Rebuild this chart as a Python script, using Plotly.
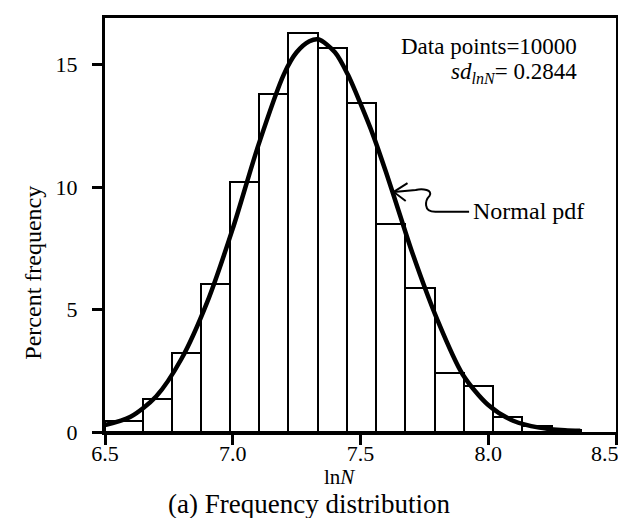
import numpy as np
import plotly.graph_objects as go

# ---- data ----
bin_edges = [6.50, 6.649, 6.763, 6.875, 6.990, 7.104, 7.218, 7.334, 7.448,
             7.562, 7.676, 7.791, 7.905, 8.020, 8.134, 8.248, 8.362]
bar_heights = [0.45, 1.36, 3.23, 6.05, 10.2, 13.78, 16.28, 15.67, 13.44,
               8.49, 5.88, 2.40, 1.86, 0.62, 0.25, 0.08]

curve_x = [6.50, 6.60, 6.70, 6.80, 6.90, 7.00, 7.10, 7.20, 7.25, 7.30, 7.335,
           7.40, 7.45, 7.50, 7.55, 7.60, 7.65, 7.70, 7.80, 7.90, 8.00, 8.10,
           8.20, 8.30, 8.36]
curve_y = [0.28, 0.62, 1.45, 3.0, 5.3, 8.3, 11.7, 14.6, 15.5, 15.95, 16.03,
           15.5, 14.6, 13.4, 12.1, 10.6, 9.0, 7.4, 4.6, 2.35, 1.1, 0.45,
           0.18, 0.07, 0.05]

x_ticks = [6.5, 7.0, 7.5, 8.0, 8.5]
x_tick_labels = ["6.5", "7.0", "7.5", "8.0", "8.5"]
y_ticks = [0, 5, 10, 15]
y_tick_labels = ["0", "5", "10", "15"]

n_points = 10000
sd_lnN = 0.2844

FONT = "Liberation Serif, Times New Roman, serif"

edges = np.array(bin_edges)
centers = (edges[:-1] + edges[1:]) / 2
widths = np.diff(edges)

fig = go.Figure()
fig.add_trace(go.Bar(
    x=centers, y=bar_heights, width=widths,
    marker=dict(color="white", line=dict(color="black", width=2)),
    showlegend=False, hoverinfo="skip",
))
fig.add_trace(go.Scatter(
    x=curve_x, y=curve_y, mode="lines",
    line=dict(color="black", width=4.5, shape="spline", smoothing=0.8),
    showlegend=False, hoverinfo="skip",
))

# wavy pointer from "Normal pdf" label to the curve
fig.add_shape(type="path",
              path="M 7.925,8.99 L 7.793,8.99 C 7.743,8.99 7.754,9.47 7.770,9.64 "
                   "C 7.785,9.88 7.743,9.96 7.716,9.88 L 7.630,9.80",
              xref="x", yref="y", line=dict(color="black", width=2))
fig.add_shape(type="path",
              path="M 7.684,10.16 L 7.630,9.80 L 7.677,9.43",
              xref="x", yref="y", line=dict(color="black", width=2))

annos = [
    dict(text="Percent frequency", x=-0.140, y=0.386, textangle=-90,
         xanchor="center", yanchor="middle", font=dict(size=24)),
    dict(text="ln<i>N</i>", x=0.458, y=-0.108, xanchor="center",
         yanchor="middle", font=dict(size=21)),
    dict(text="(a) Frequency distribution", x=0.40, y=-0.175,
         xanchor="center", yanchor="middle", font=dict(size=27)),
    dict(text=f"Data points={n_points}", x=0.928, y=0.930, xanchor="right",
         yanchor="middle", font=dict(size=23)),
    dict(text=f"<i>sd</i><sub><i>lnN</i></sub>= {sd_lnN}", x=0.928, y=0.868,
         xanchor="right", yanchor="middle", font=dict(size=23)),
    dict(text="Normal pdf", x=0.717, y=0.533, xanchor="left",
         yanchor="middle", font=dict(size=24)),
]
for a in annos:
    a.update(xref="paper", yref="paper", showarrow=False)
    a["font"].update(family=FONT, color="black")
    fig.add_annotation(**a)

# last x tick label is drawn as an annotation so it stays inside the page
fig.add_annotation(text=x_tick_labels[-1], x=x_ticks[-1], xref="x",
                   y=0, yref="paper", xanchor="right", yanchor="middle",
                   xshift=5, yshift=-21, showarrow=False,
                   font=dict(family=FONT, size=22, color="black"))
shown_x_labels = x_tick_labels[:-1] + [""]

axis_common = dict(showline=True, linecolor="black", linewidth=3, mirror=True,
                   ticks="outside", ticklen=10, tickwidth=3, tickcolor="black",
                   showgrid=False, zeroline=False,
                   tickfont=dict(family=FONT, size=22, color="black"))

fig.update_xaxes(range=[6.5, 8.5], tickvals=x_ticks, ticktext=shown_x_labels,
                 ticklabelstandoff=-10, **axis_common)
fig.update_yaxes(range=[0, 16.9], tickvals=y_ticks, ticktext=y_tick_labels,
                 ticklabelstandoff=10, **axis_common)

# page body has an 8px margin, so the figure is sized/offset to compensate
fig.update_layout(
    width=618, height=510,
    margin=dict(l=97, r=8, t=7, b=86),
    plot_bgcolor="white", paper_bgcolor="white",
    bargap=0,
    font=dict(family=FONT, color="black"),
)

fig.write_html("out.html")
